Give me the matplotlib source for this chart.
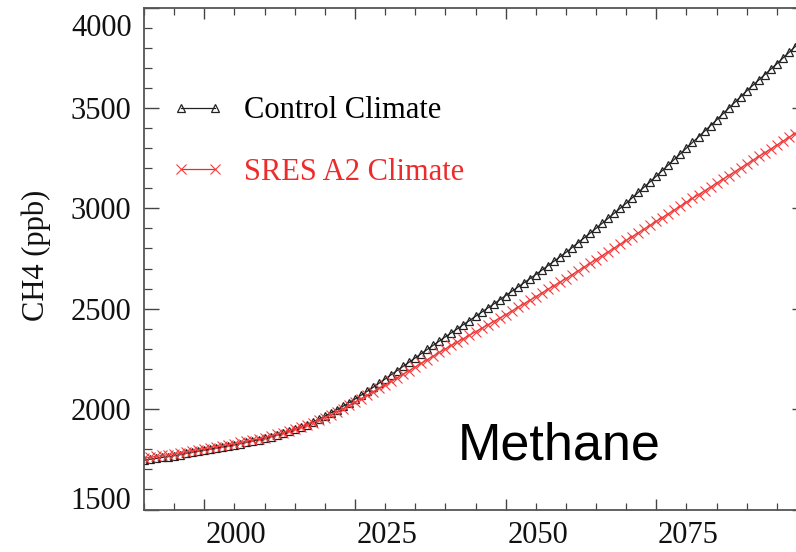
import matplotlib
matplotlib.use("Agg")
import matplotlib.pyplot as plt
from matplotlib.transforms import ScaledTranslation
from matplotlib.ticker import MultipleLocator

years = list(range(1990, 2101))

control = [
    1745, 1750, 1754, 1759, 1763, 1768,
    1773, 1779, 1784, 1790, 1795,
    1800, 1806, 1811, 1817, 1822,
    1828, 1834, 1841, 1848, 1855,
    1863, 1871, 1880, 1890, 1900,
    1911, 1923, 1936, 1950, 1965,
    1981, 1997, 2014, 2032, 2050,
    2069, 2088, 2108, 2129, 2150,
    2171, 2192, 2213, 2234, 2255,
    2276, 2297, 2318, 2339, 2360,
    2380, 2400, 2421, 2441, 2462,
    2482, 2503, 2523, 2544, 2565,
    2586, 2607, 2628, 2649, 2670,
    2692, 2714, 2736, 2758, 2780,
    2804, 2828, 2852, 2876, 2900,
    2925, 2950, 2975, 3000, 3025,
    3052, 3079, 3106, 3133, 3160,
    3188, 3216, 3244, 3272, 3300,
    3328, 3356, 3384, 3412, 3440,
    3469, 3498, 3527, 3556, 3585,
    3612, 3639, 3666, 3693, 3720,
    3748, 3776, 3804, 3832, 3860,
]

sres_a2 = [
    1755, 1760, 1764, 1769, 1773, 1778,
    1783, 1788, 1793, 1798, 1803,
    1808, 1813, 1818, 1823, 1828,
    1834, 1840, 1846, 1852, 1858,
    1866, 1874, 1882, 1891, 1900,
    1910, 1921, 1933, 1945, 1958,
    1972, 1987, 2002, 2018, 2035,
    2052, 2069, 2086, 2103, 2120,
    2138, 2156, 2174, 2192, 2210,
    2228, 2246, 2264, 2282, 2300,
    2317, 2334, 2351, 2368, 2385,
    2402, 2419, 2436, 2453, 2470,
    2488, 2506, 2524, 2542, 2560,
    2578, 2596, 2614, 2632, 2650,
    2669, 2688, 2707, 2726, 2745,
    2764, 2783, 2802, 2821, 2840,
    2859, 2878, 2897, 2916, 2935,
    2954, 2973, 2992, 3011, 3030,
    3049, 3068, 3087, 3106, 3125,
    3144, 3163, 3182, 3201, 3220,
    3239, 3258, 3277, 3296, 3315,
    3334, 3353, 3372, 3391, 3410,
]

x_ticks = [2000, 2025, 2050, 2075]
y_ticks = [1500, 2000, 2500, 3000, 3500, 4000]
series_labels = ["Control Climate", "SRES A2 Climate"]
y_label = "CH4 (ppb)"
annotation = "Methane"

W, H = 796, 552
fig = plt.figure(figsize=(W / 100, H / 100), dpi=100)
# axes box in pixels: left 144, right 807 (beyond the crop), top 7.5, bottom 509.5
left, right, top, bottom = 144, 807, 7.5, 509.5
ax = fig.add_axes([left / W, 1 - bottom / H, (right - left) / W, (bottom - top) / H])

serif = ["Liberation Serif", "DejaVu Serif"]
red = "#ee2b2b"

l1, = ax.plot(years, control, color="#222222", lw=0.9, marker="^", ms=6,
              mfc="none", mec="#222222", mew=0.9, label=series_labels[0])
l2, = ax.plot(years, sres_a2, color=red, lw=0.9, marker="x", ms=6.5,
              mec="#f04040", mew=0.8, label=series_labels[1])

ax.set_xlim(1990, 2100)
ax.set_ylim(1500, 4000)
ax.set_xticks(x_ticks)
ax.set_yticks(y_ticks)
ax.xaxis.set_minor_locator(MultipleLocator(5))
ax.yaxis.set_minor_locator(MultipleLocator(100))
ax.tick_params(which="both", direction="in", top=True, right=True, colors="#444444")
ax.tick_params(axis="x", which="major", length=8, width=1.0, pad=8)
ax.tick_params(axis="x", which="minor", length=5, width=0.9)
ax.tick_params(axis="y", which="major", length=11, width=1.0, pad=9)
ax.tick_params(axis="y", which="minor", length=6, width=0.9)
for lab in ax.get_xticklabels() + ax.get_yticklabels():
    lab.set_fontfamily(serif)
    lab.set_fontsize(22)
    lab.set_color("#111111")
for sp in ax.spines.values():
    sp.set_color("#555555")
    sp.set_linewidth(1.3)

# reproduce label placement of the original
for lab in ax.xaxis.get_majorticklabels():
    lab.set_transform(lab.get_transform() + ScaledTranslation(32 / 100, 0, fig.dpi_scale_trans))
ylabs = ax.yaxis.get_majorticklabels()
ylabs[0].set_transform(ylabs[0].get_transform() + ScaledTranslation(0, 12 / 100, fig.dpi_scale_trans))
ylabs[-1].set_transform(ylabs[-1].get_transform() + ScaledTranslation(0, -17 / 100, fig.dpi_scale_trans))

fig.text(36 / W, 1 - 255 / H, y_label, rotation=90, ha="center", va="center",
         fontfamily=serif, fontsize=22, color="#111111")

leg = ax.legend(handles=[l1, l2], loc="upper left",
                bbox_to_anchor=((160 - left) / (right - left), 1 - (84 - top) / (bottom - top)),
                frameon=False, numpoints=2, prop={"family": serif, "size": 22},
                handlelength=1.7, handletextpad=0.65, labelspacing=1.07, borderaxespad=0)
leg.get_texts()[1].set_color(red)

ax.text((458 - left) / (right - left), (bottom - 460) / (bottom - top), annotation,
        transform=ax.transAxes, ha="left", va="baseline",
        fontfamily=["Liberation Sans", "DejaVu Sans"], fontsize=37.5, color="black")

fig.savefig("out.png", dpi=100)
